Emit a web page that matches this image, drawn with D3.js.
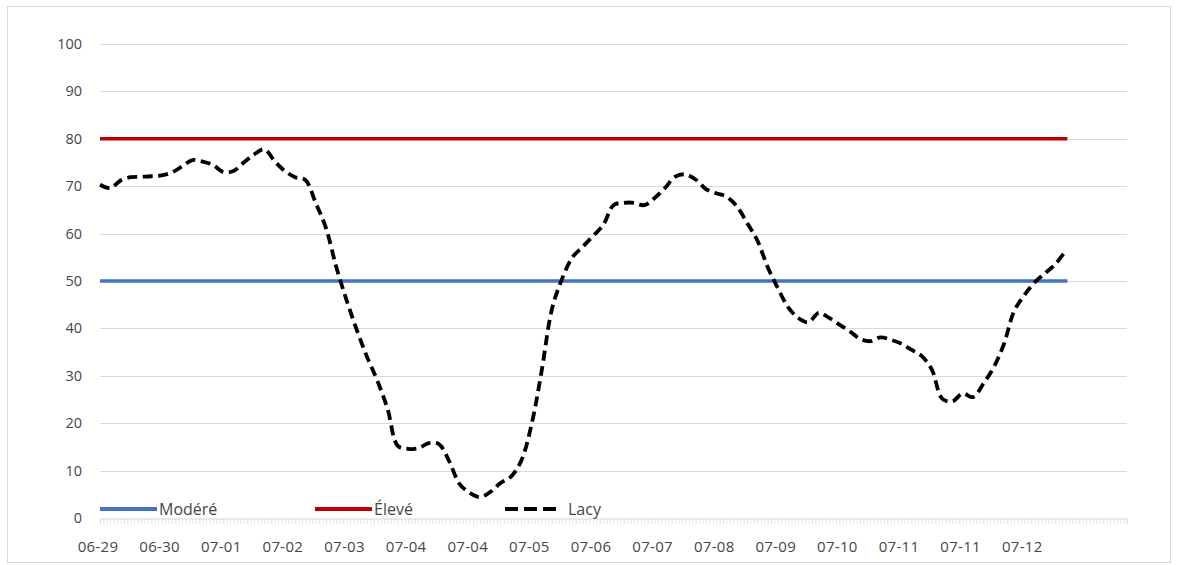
<!DOCTYPE html>
<html>
<head>
<meta charset="utf-8">
<script src="https://cdn.jsdelivr.net/npm/d3@7/dist/d3.min.js"></script>
<style>
  html, body { margin: 0; padding: 0; background: #fff; }
  svg { display: block; font-family: "Open Sans", "Liberation Sans", sans-serif; }
</style>
</head>
<body>
<svg id="chart" width="1177" height="565"></svg>
<script>
// Axis labels shown along the bottom (one every 18 readings)
const dateLabels = ["06-29", "06-30", "07-01", "07-02", "07-03", "07-04", "07-04", "07-05",
                    "07-06", "07-07", "07-08", "07-09", "07-10", "07-11", "07-11", "07-12"];
const labelEvery = 18;       // readings between two labels
const totalSlots = 300;      // readings the axis has room for
const sampleStep = 3;        // readings between two stored Lacy values

// Lacy index, one value every 3 readings
const lacy = [70.3, 69.6, 71.2, 71.9, 72.0, 72.1, 72.3, 72.9, 74.2, 75.5,
              75.2, 74.5, 73.0, 73.2, 75.0, 76.7, 77.8, 75.3, 73.2, 71.9,
              71.3, 66.5, 61.2, 53.0, 46.0, 39.7, 34.0, 29.0, 23.0, 15.2,
              14.6, 14.7, 15.8, 15.6, 12.0, 7.2, 5.3, 4.4, 5.5, 7.4,
              8.7, 12.0, 19.5, 31.0, 44.0, 50.5, 55.0, 57.2, 59.5, 61.8,
              66.0, 66.5, 66.5, 66.0, 67.5, 69.6, 72.0, 72.5, 71.4, 69.4,
              68.5, 67.8, 65.8, 62.3, 58.6, 53.0, 48.5, 44.5, 42.2, 41.3,
              43.3, 42.2, 40.8, 39.4, 37.8, 37.3, 38.1, 37.6, 36.8, 35.5,
              34.2, 31.3, 25.2, 24.6, 26.3, 25.5, 28.3, 31.7, 36.6, 43.6,
              47.0, 49.7, 51.6, 53.5, 56.3];

// Threshold levels
const thresholds = [
  { name: "Modéré", value: 50, color: "#4472C4" },
  { name: "Élevé",  value: 80, color: "#C00000" }
];
const yTicks = [0, 10, 20, 30, 40, 50, 60, 70, 80, 90, 100];

const svg = d3.select("#chart");
const plot = { left: 100, right: 1127, top: 44, bottom: 518 };
const textColor = "#464646";

// Outer chart frame
svg.append("rect")
  .attr("x", 7.5).attr("y", 6.5).attr("width", 1163).attr("height", 556)
  .attr("fill", "#fff").attr("stroke", "#D9D9D9").attr("stroke-width", 1);

const x = d3.scaleLinear().domain([0, totalSlots]).range([plot.left, plot.right]);
const y = d3.scaleLinear().domain([0, 100]).range([plot.bottom, plot.top]);
const lastIndex = (lacy.length - 1) * sampleStep;

// Horizontal gridlines
svg.append("g")
  .selectAll("line").data(yTicks.filter(d => d > 0)).join("line")
  .attr("x1", plot.left).attr("x2", plot.right)
  .attr("y1", d => Math.round(y(d)) + 0.5).attr("y2", d => Math.round(y(d)) + 0.5)
  .attr("stroke", "#D9D9D9").attr("stroke-width", 1.2);

// Y axis labels
svg.append("g")
  .selectAll("text").data(yTicks).join("text")
  .attr("x", 82).attr("y", d => y(d)).attr("dy", "0.35em")
  .attr("text-anchor", "end").attr("font-size", 14.5).attr("fill", textColor)
  .text(d => d);

// X axis with a tick for every reading
const xAxis = d3.axisBottom(x)
  .tickValues(d3.range(0, totalSlots + 1))
  .tickSize(5).tickFormat("");
const gx = svg.append("g").attr("transform", `translate(0,${plot.bottom + 0.5})`).call(xAxis);
gx.select(".domain").attr("stroke", "#D9D9D9").attr("stroke-width", 1.2);
gx.selectAll(".tick line").attr("stroke", "#D9D9D9").attr("stroke-width", 0.8);

// Date labels
svg.append("g")
  .selectAll("text").data(dateLabels).join("text")
  .attr("x", (d, i) => x(i * labelEvery) - 2).attr("y", 552)
  .attr("text-anchor", "middle").attr("font-size", 15).attr("fill", textColor)
  .attr("letter-spacing", 0.3)
  .text(d => d);

// Threshold lines across the observed period
svg.append("g")
  .selectAll("line").data(thresholds).join("line")
  .attr("x1", x(0)).attr("x2", x(lastIndex) + 2)
  .attr("y1", d => y(d.value)).attr("y2", d => y(d.value))
  .attr("stroke", d => d.color).attr("stroke-width", 3.5);

// Lacy series, smoothed dashed line
const line = d3.line()
  .x((d, i) => x(i * sampleStep))
  .y(d => y(d))
  .curve(d3.curveCatmullRom.alpha(0.5));
svg.append("path")
  .datum(lacy)
  .attr("d", line)
  .attr("fill", "none").attr("stroke", "#000")
  .attr("stroke-width", 3.8).attr("stroke-dasharray", "10,5.5");

// Legend inside the bottom of the plot
const legendItems = [
  { name: thresholds[0].name, color: thresholds[0].color, dash: null, x: 100 },
  { name: thresholds[1].name, color: thresholds[1].color, dash: null, x: 315 },
  { name: "Lacy", color: "#000", dash: "13,6", x: 505 }
];
const lg = svg.append("g").selectAll("g").data(legendItems).join("g")
  .attr("transform", d => `translate(${d.x},509)`);
lg.append("line")
  .attr("x1", 0).attr("x2", d => d.dash ? 51 : 57).attr("y1", 0).attr("y2", 0)
  .attr("stroke", d => d.color).attr("stroke-width", 3.8)
  .attr("stroke-dasharray", d => d.dash);
lg.append("text")
  .attr("x", d => d.dash ? 63 : 59).attr("y", 0).attr("dy", "0.4em")
  .attr("font-size", 16).attr("fill", textColor)
  .text(d => d.name);
</script>
</body>
</html>
